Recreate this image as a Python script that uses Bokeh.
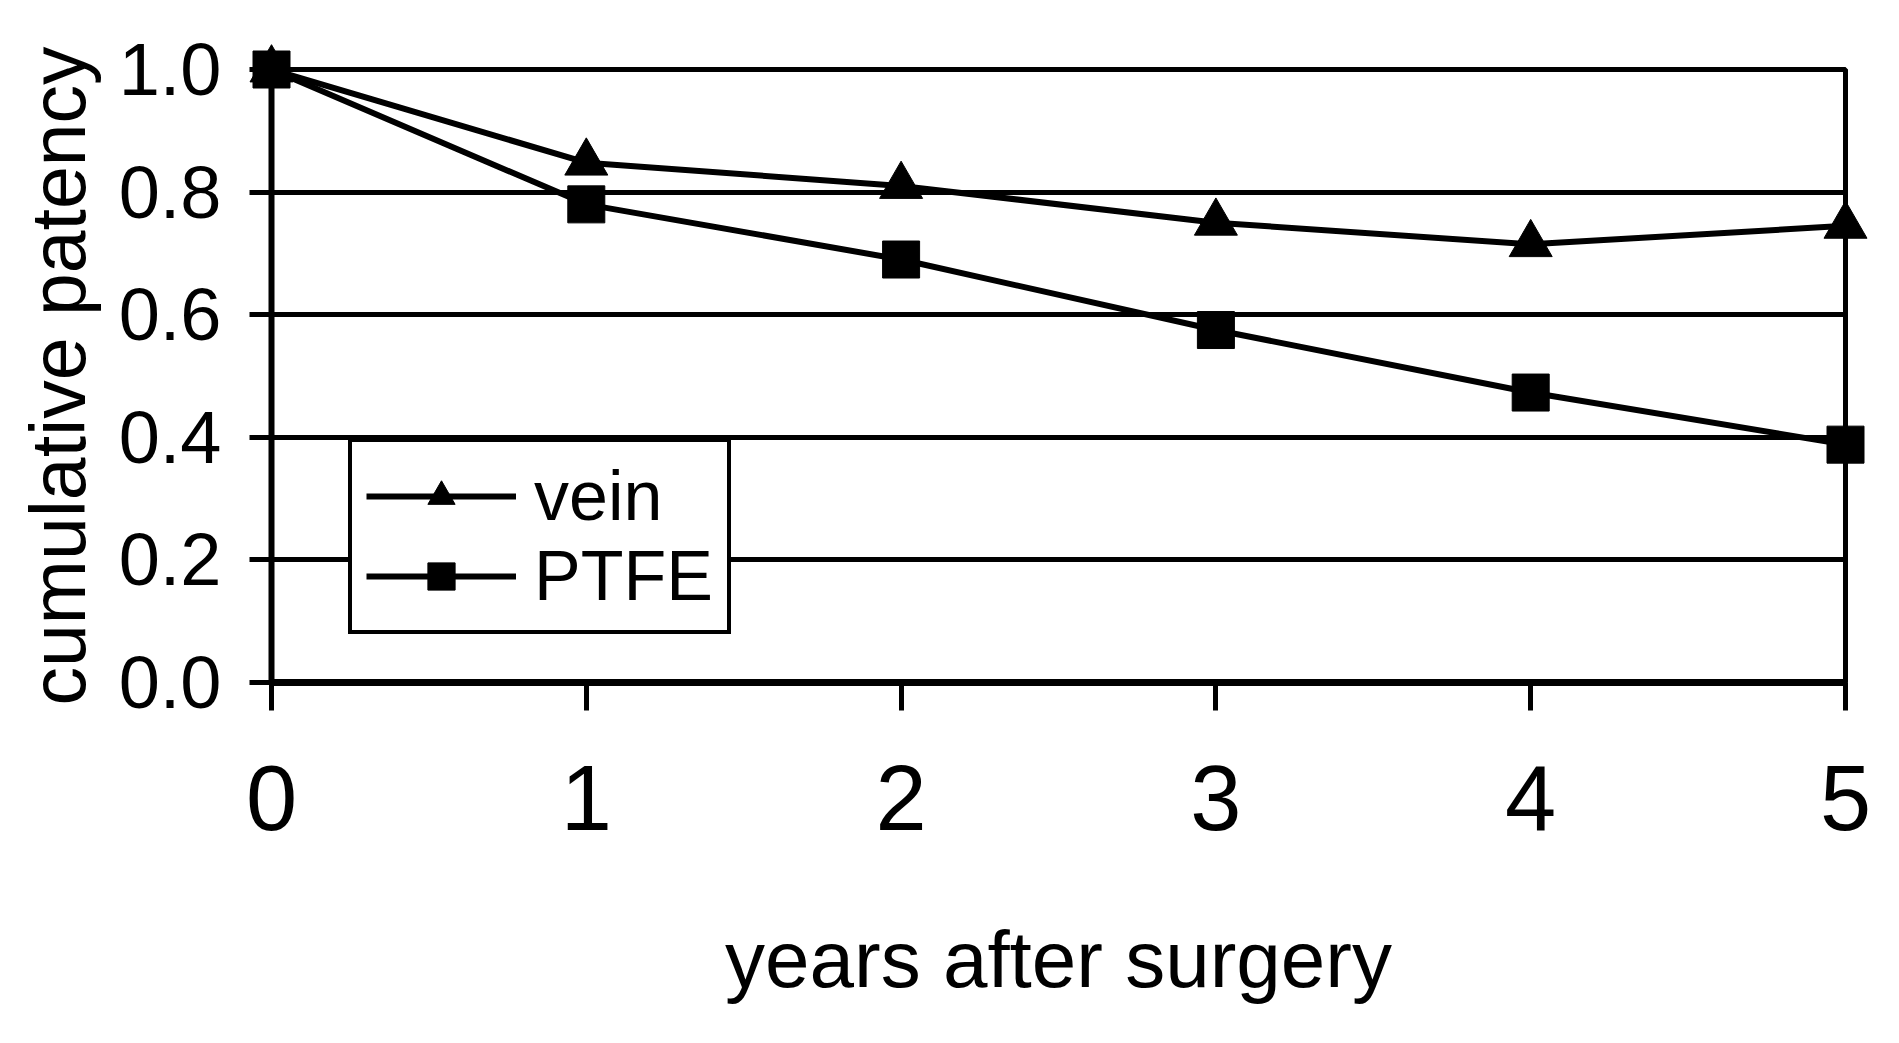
from bokeh.plotting import figure
from bokeh.models import Range1d, FixedTicker, PrintfTickFormatter, Legend, LegendItem
from bokeh.embed import file_html
from bokeh.resources import INLINE

years = [0, 1, 2, 3, 4, 5]
vein = [1.0, 0.848, 0.81, 0.75, 0.715, 0.745]
ptfe = [1.0, 0.78, 0.69, 0.575, 0.473, 0.388]
x_ticks = [0, 1, 2, 3, 4, 5]
y_ticks = [0.0, 0.2, 0.4, 0.6, 0.8, 1.0]

FONT = "Liberation Sans"

p = figure(width=1883, height=1027, output_backend="svg", toolbar_location=None,
           x_range=Range1d(0, 5), y_range=Range1d(0, 1),
           min_border_left=271, min_border_right=38, min_border_top=69, min_border_bottom=345)

p.background_fill_color = "white"
p.border_fill_color = "white"
p.outline_line_color = "black"
p.outline_line_width = 5
p.outline_line_alpha = 1.0

p.xgrid.visible = False
p.ygrid.ticker = FixedTicker(ticks=y_ticks)
p.ygrid.grid_line_color = "black"
p.ygrid.grid_line_width = 5
p.ygrid.grid_line_alpha = 1.0

p.xaxis.ticker = FixedTicker(ticks=x_ticks)
p.yaxis.ticker = FixedTicker(ticks=y_ticks)
p.yaxis.formatter = PrintfTickFormatter(format="%.1f")
p.xaxis.formatter = PrintfTickFormatter(format="%d")

for ax in (p.xaxis[0], p.yaxis[0]):
    ax.axis_line_color = "black"
    ax.major_tick_line_color = "black"
    ax.major_tick_line_width = 5
    ax.major_tick_in = 0
    ax.minor_tick_line_color = None
    ax.major_label_text_color = "black"
    ax.major_label_text_font = FONT
    ax.axis_label_text_color = "black"
    ax.axis_label_text_font = FONT
    ax.axis_label_text_font_style = "normal"

p.xaxis.axis_line_width = 7
p.yaxis.axis_line_width = 6
p.xaxis.major_tick_out = 28
p.yaxis.major_tick_out = 22
p.xaxis.major_label_text_font_size = "92px"
p.yaxis.major_label_text_font_size = "74px"
p.xaxis.major_label_standoff = 55
p.yaxis.major_label_standoff = 28
p.xaxis.axis_label = "years after surgery"
p.yaxis.axis_label = "cumulative patency"
p.xaxis.axis_label_text_font_size = "80px"
p.yaxis.axis_label_text_font_size = "77px"
p.xaxis.axis_label_standoff = 82
p.yaxis.axis_label_standoff = 15

l1 = p.line(years, vein, line_color="black", line_width=6)
m1 = p.scatter(years, vein, marker="triangle", size=43, fill_color="black",
               line_color="black", level="overlay")
l2 = p.line(years, ptfe, line_color="black", line_width=6)
m2 = p.scatter(years, ptfe, marker="square", size=37, fill_color="black",
               line_color="black", level="overlay")

legend = Legend(items=[LegendItem(label="vein", renderers=[l1, m1]),
                       LegendItem(label="PTFE", renderers=[l2, m2])],
                location=(77, 48))
legend.border_line_color = "black"
legend.border_line_width = 4
legend.border_line_alpha = 1.0
legend.background_fill_color = "white"
legend.background_fill_alpha = 1.0
legend.label_text_font = FONT
legend.label_text_font_size = "70px"
legend.label_text_line_height = 1.0
legend.label_text_color = "black"
legend.label_height = 68
legend.glyph_width = 150
legend.glyph_height = 68
legend.spacing = 0
legend.padding = 14
legend.label_standoff = 18
legend.margin = 0
p.add_layout(legend, "center")

open("out.html", "w").write(file_html(p, INLINE))
